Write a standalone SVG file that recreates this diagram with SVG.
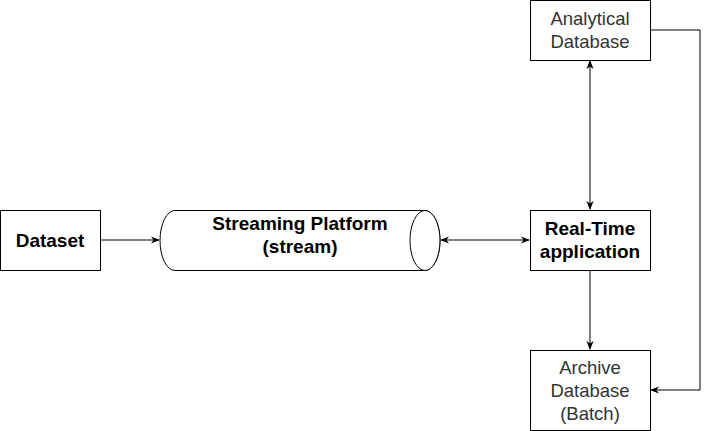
<svg xmlns="http://www.w3.org/2000/svg" width="709" height="431" viewBox="0 0 709 431">
<style>
.box{fill:#fff;stroke:#000;stroke-width:1}
.t{font-family:"Liberation Sans",Arial,sans-serif;font-size:18.5px;text-anchor:middle}
.b{font-weight:bold;fill:#000;font-size:19px}
.n{fill:#333}
.c{fill:none;stroke:#000;stroke-width:1}
</style>
<defs>
<marker id="ah" viewBox="0 0 10 10" refX="9" refY="5" markerWidth="9" markerHeight="9" markerUnits="userSpaceOnUse" orient="auto-start-reverse">
<path d="M0,1 L10,5 L0,9 L3,5 Z" fill="#000"/>
</marker>
</defs>
<rect width="709" height="431" fill="#fff"/>
<g id="connectors">
<line class="c" x1="100" y1="240" x2="159" y2="240" marker-end="url(#ah)"/>
<line class="c" x1="441" y1="240" x2="529" y2="240" marker-start="url(#ah)" marker-end="url(#ah)"/>
<line class="c" x1="590" y1="61" x2="590" y2="209" marker-start="url(#ah)" marker-end="url(#ah)"/>
<line class="c" x1="590" y1="270" x2="590" y2="349" marker-end="url(#ah)"/>
<polyline class="c" points="650,30 700,30 700,390 651,390" marker-end="url(#ah)"/>
</g>
<g id="analytical">
<rect class="box" x="530.5" y="0.5" width="120" height="60"/>
<text class="t n" x="590" y="25">Analytical</text>
<text class="t n" x="590" y="48">Database</text>
</g>
<g id="dataset">
<rect class="box" x="0.5" y="210.5" width="100" height="60"/>
<text class="t b" x="50" y="247">Dataset</text>
</g>
<g id="stream">
<path class="box" d="M175,210.5 L425,210.5 A15,30 0 0 1 425,270.5 L175,270.5 A15,30 0 0 1 175,210.5 Z"/>
<ellipse class="box" cx="425" cy="240.5" rx="15" ry="30"/>
<text class="t b" x="300" y="229.5">Streaming Platform</text>
<text class="t b" x="300" y="253">(stream)</text>
</g>
<g id="realtime">
<rect class="box" x="530.5" y="210.5" width="120" height="60"/>
<text class="t b" x="590" y="234.5">Real-Time</text>
<text class="t b" x="590" y="257.5">application</text>
</g>
<g id="archive">
<rect class="box" x="530.5" y="350.5" width="120" height="80"/>
<text class="t n" x="590" y="373.5">Archive</text>
<text class="t n" x="590" y="397">Database</text>
<text class="t n" x="590" y="420">(Batch)</text>
</g>
</svg>
